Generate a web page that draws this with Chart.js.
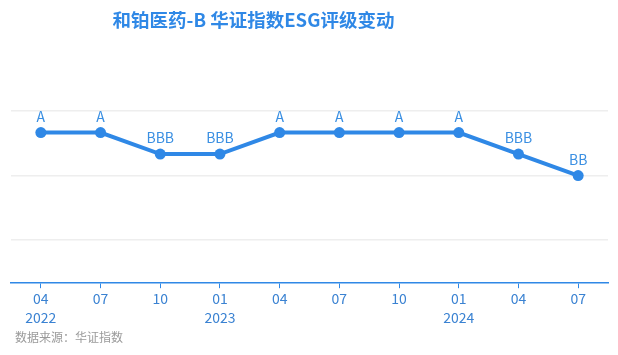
<!DOCTYPE html>
<html>
<head>
<meta charset="utf-8">
<script src="https://cdn.jsdelivr.net/npm/chart.js@4/dist/chart.umd.min.js"></script>
<style>
  html, body { margin: 0; padding: 0; background: #ffffff; }
  #wrap { position: relative; width: 618px; height: 355px; }
</style>
</head>
<body>
<div id="wrap"><canvas id="c" width="618" height="355"></canvas></div>
<script>
const months = ['04', '07', '10', '01', '04', '07', '10', '01', '04', '07'];
const years  = ['2022', '', '', '2023', '', '', '', '2024', '', ''];
const ratings = ['A', 'A', 'BBB', 'BBB', 'A', 'A', 'A', 'A', 'BBB', 'BB'];
const ratingScale = ['C', 'CC', 'CCC', 'B', 'BB', 'BBB', 'A', 'AA', 'AAA']; // 1..9
const gridLevels = [2, 5, 8];
const titleText = '和铂医药-B 华证指数ESG评级变动';
const sourceText = '数据来源：华证指数';

const values = ratings.map(r => ratingScale.indexOf(r) + 1);
const labels = months.map((m, i) => years[i] ? [m, years[i]] : [m]);

const BLUE = '#2f88e6';
const FONT = '"Noto Sans CJK SC", "Noto Sans", sans-serif';

const pointLabels = {
  id: 'pointLabels',
  afterDatasetsDraw(chart) {
    const ctx = chart.ctx;
    const meta = chart.getDatasetMeta(0);
    ctx.save();
    ctx.font = '14px ' + FONT;
    ctx.fillStyle = '#3a8fe2';
    ctx.textAlign = 'center';
    ctx.textBaseline = 'middle';
    meta.data.forEach((pt, i) => {
      ctx.fillText(ratings[i], pt.x, pt.y - 16);
    });
    ctx.restore();
  }
};

const texts = {
  id: 'texts',
  afterDraw(chart) {
    const ctx = chart.ctx;
    ctx.save();
    ctx.font = 'bold 18.5px ' + FONT;
    ctx.fillStyle = BLUE;
    ctx.textAlign = 'center';
    ctx.textBaseline = 'middle';
    ctx.fillText(titleText, 253.5, 20);
    ctx.font = '12px ' + FONT;
    ctx.fillStyle = '#9a9a9a';
    ctx.textAlign = 'left';
    ctx.fillText(sourceText, 15, 337);
    ctx.restore();
  }
};

new Chart(document.getElementById('c'), {
  type: 'line',
  data: {
    labels: labels,
    datasets: [{
      data: values,
      borderColor: BLUE,
      backgroundColor: BLUE,
      borderWidth: 4,
      pointRadius: 5.5,
      pointHoverRadius: 5.5,
      pointBackgroundColor: BLUE,
      pointBorderWidth: 0,
      tension: 0,
      clip: false
    }]
  },
  options: {
    responsive: false,
    animation: false,
    devicePixelRatio: 1,
    layout: { padding: { top: 68, left: 11, right: 10, bottom: 27 } },
    plugins: {
      legend: { display: false },
      title: { display: false },
      tooltip: { enabled: false }
    },
    scales: {
      x: {
        offset: true,
        grid: {
          display: true,
          drawOnChartArea: false,
          drawTicks: true,
          tickLength: 5,
          color: BLUE
        },
        border: { display: true, color: BLUE, width: 1.5 },
        ticks: {
          color: '#3a82d2',
          font: { size: 14, family: FONT, lineHeight: 1.35 },
          padding: 1,
          maxRotation: 0,
          autoSkip: false
        }
      },
      y: {
        min: 0,
        max: 10,
        afterBuildTicks(axis) {
          axis.ticks = gridLevels.map(v => ({ value: v }));
        },
        grid: { color: '#eeeeee', lineWidth: 1.5, drawTicks: false },
        border: { display: false },
        ticks: { display: false }
      }
    }
  },
  plugins: [pointLabels, texts]
});
</script>
</body>
</html>
